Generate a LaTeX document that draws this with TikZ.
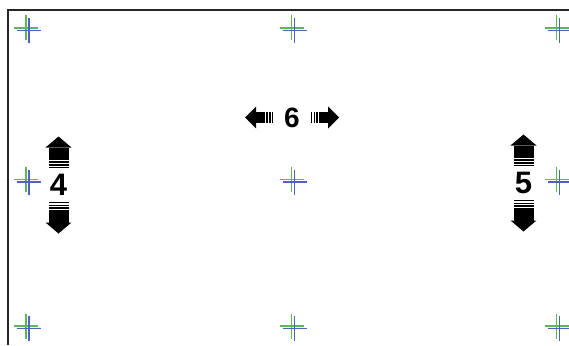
\documentclass[tikz,border=0pt]{standalone}
\usepackage{fontspec}
\setmainfont{Liberation Sans}
\usepackage{xcolor}
\usepackage{tikz}
\definecolor{markgreen}{RGB}{92,186,84}
\definecolor{markblue}{RGB}{78,98,196}
\tikzset{
  frameline/.style={draw, line width=1.6pt, black!85},
  greenmark/.style={draw=markgreen, line width=1.8pt},
  bluemark/.style={draw=markblue, line width=1.8pt},
  bigdigit/.style={inner sep=0pt, font=\fontsize{31}{31}\selectfont\bfseries},
  middigit/.style={inner sep=0pt, font=\fontsize{28}{28}\selectfont\bfseries}
}
% half of a striped double arrow, pointing along +x
\newcommand{\stripehalf}[5]{%
  \foreach \k in {0,1,2,3}
    \fill ({#1-\k*2.9-1.7},-#4) rectangle ({#1-\k*2.9},#4);
  \fill (#1,-#4) rectangle (#2,#4);
  \fill (#2,-#5) -- (#3,0) -- (#2,#5) -- cycle;
}

\begin{document}
\begin{tikzpicture}[x=1pt,y=-1pt]
  \useasboundingbox (0,0) rectangle (569,345);
  \fill[white] (0,0) rectangle (569,345);
  \draw[frameline] (8,345) -- (8,10) -- (569,10);

  \foreach \gx in {26,291.5,556.5}
    \foreach \gy in {28,179.5,326} {
      \draw[greenmark] (\gx-12,\gy) -- (\gx+12,\gy) (\gx,\gy-12.5) -- (\gx,\gy+12.5);
      \draw[bluemark] (\gx-9,\gy+2.5) -- (\gx+15,\gy+2.5) (\gx+3,\gy-10) -- (\gx+3,\gy+15);
    }

  \node[middigit] (six) at (292,117.5) {6};
  \begin{scope}[shift={(six.center)}]
    \stripehalf{29}{36}{47}{5.5}{11}
  \end{scope}
  \begin{scope}[shift={(six.center)},rotate=180]
    \stripehalf{29}{36}{47}{5.5}{11}
  \end{scope}

  \node[bigdigit] (four) at (58.5,185) {4};
  \begin{scope}[shift={(four.center)},rotate=90]
    \stripehalf{27}{37.5}{48.5}{10}{13}
  \end{scope}
  \begin{scope}[shift={(four.center)},rotate=-90]
    \stripehalf{27}{37.5}{48.5}{10}{13}
  \end{scope}

  \node[bigdigit] (five) at (523.5,183) {5};
  \begin{scope}[shift={(five.center)},rotate=90]
    \stripehalf{27}{37.5}{48.5}{10}{13}
  \end{scope}
  \begin{scope}[shift={(five.center)},rotate=-90]
    \stripehalf{27}{37.5}{48.5}{10}{13}
  \end{scope}
\end{tikzpicture}
\end{document}
